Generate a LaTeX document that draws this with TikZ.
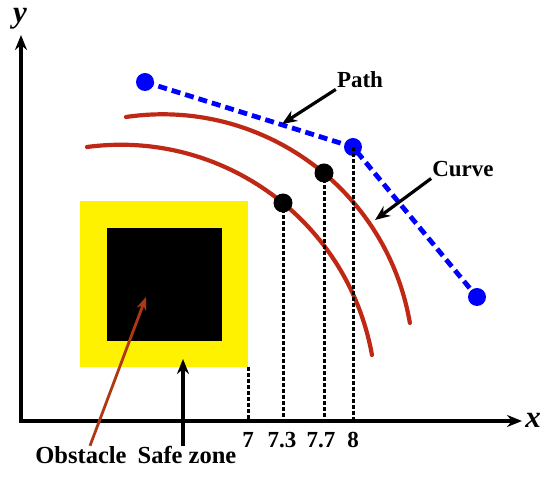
\documentclass[tikz,border=0pt]{standalone}
\usepackage{fontspec}
\setmainfont{Liberation Serif}
\usetikzlibrary{arrows.meta}
\definecolor{arcred}{RGB}{190,40,20}
\definecolor{obsred}{RGB}{175,55,20}
\tikzset{
  axis/.style={line width=3.2pt, {Stealth[length=15pt,width=12pt]}-{Stealth[length=15pt,width=12pt]}},
  arr/.style={line width=3.2pt, -{Stealth[length=15pt,width=12pt]}},
  lbl/.style={font=\bfseries\fontsize{23}{27}\selectfont, inner sep=1pt, anchor=base},
  blbl/.style={lbl, font=\bfseries\fontsize{24.5}{28}\selectfont},
  axlbl/.style={font=\bfseries\itshape\fontsize{31}{34}\selectfont, inner sep=0pt, anchor=base},
  bdot/.style={circle, fill=blue, minimum size=18pt, inner sep=0pt},
  kdot/.style={circle, fill=black, minimum size=19pt, inner sep=0pt},
  curv/.style={line width=4.2pt, arcred, line cap=round},
  route/.style={line width=4.8pt, blue, dash pattern=on 9pt off 5pt},
  drop/.style={line width=3pt, dash pattern=on 4pt off 2pt},
}

\begin{document}
\begin{tikzpicture}[x=1pt, y=-1pt]
\useasboundingbox (0,0) rectangle (550,478);

% axes
\coordinate (O) at (21,421);
\coordinate (xend) at (522,421);
\coordinate (yend) at (21,35);
\draw[axis] (yend) |- (xend);
\node[axlbl] (ylbl) at (20,23) {y};
\node[axlbl] (xlbl) at (533,428) {x};

% obstacle and safe zone
\fill[yellow] (80,201) rectangle (248,367);
\fill[black] (107,228) rectangle (222,341);
\coordinate (s7) at (248,367);
\coordinate (obspt) at (146,297);
\coordinate (safept) at (183,359);

% curves
\draw[curv] (126,117) arc[start angle=-98.36, end angle=-9.72, radius=251];
\draw[curv] (87,147) arc[start angle=-97.58, end angle=-10.17, radius=255.3];

% path
\node[bdot] (p1) at (145,82) {};
\node[bdot] (p2) at (353,147) {};
\node[bdot] (p3) at (477,297) {};
\draw[route] (p1.center) -- (p2.center) -- (p3.center);

\node[kdot] (d73) at (283,203) {};
\node[kdot] (d77) at (324,173) {};

% drop lines
\draw[drop] (s7) -- (s7 |- O);
\draw[drop] (d73.center) -- (d73 |- O);
\draw[drop] (d77.center) -- (d77 |- O);
\draw[drop] (p2.center) -- (p2 |- O);

\node[lbl] (t7) at (248,448) {7};
\node[lbl] (t73) at (282,448) {7.3};
\node[lbl] (t77) at (321,448) {7.7};
\node[lbl] (t8) at (353,448) {8};

% labels
\node[lbl] (pathlbl) at (360,88) {Path};
\node[lbl] (curvelbl) at (463,177) {Curve};
\node[blbl] (obslbl) at (81,464) {Obstacle};
\node[blbl] (safelbl) at (187,464) {Safe zone};
\coordinate (pathpt) at (282,124);
\coordinate (curvept) at (375,220);

\draw[arr] (pathlbl.south west) -- (pathpt);
\draw[arr] (curvelbl.south west) -- (curvept);
\draw[arr] (safelbl.north -| safept) -- (safept);
\draw[line width=2.8pt, obsred, -{Stealth[length=13pt,width=10pt,fill=red]}] ([xshift=9pt]obslbl.north) -- (obspt);

\end{tikzpicture}
\end{document}
